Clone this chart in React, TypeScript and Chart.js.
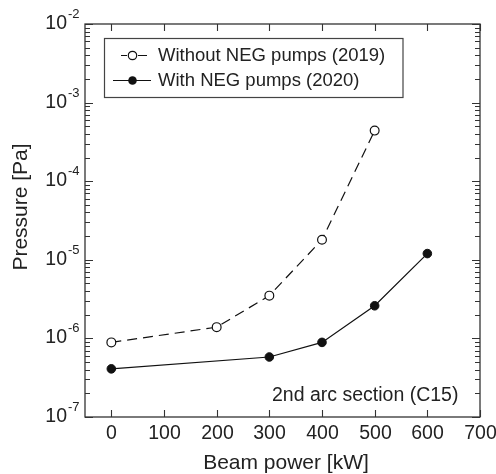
import React, { useEffect, useRef } from "react";
import { Chart, registerables } from "chart.js";

Chart.register(...registerables);

const beamPowerWithout = [0, 200, 300, 400, 500];
const pressureWithout = [8.9e-7, 1.39e-6, 3.5e-6, 1.8e-5, 4.4e-4];
const beamPowerWith = [0, 300, 400, 500, 600];
const pressureWith = [4.1e-7, 5.8e-7, 8.9e-7, 2.6e-6, 1.2e-5];
const xTickValues = [0, 100, 200, 300, 400, 500, 600, 700];
const yDecadeExps = [-7, -6, -5, -4, -3, -2];
const labelWithout = "Without NEG pumps (2019)";
const labelWith = "With NEG pumps (2020)";
const xTitle = "Beam power [kW]";
const yTitle = "Pressure [Pa]";
const annotation = "2nd arc section (C15)";

const FONT = '"Liberation Sans", Arial, Helvetica, sans-serif';
const TEXT = "#222";

const decorPlugin = {
  id: "decor",
  afterDraw(chart: any) {
    const ctx: CanvasRenderingContext2D = chart.ctx;
    const { left, right, top, bottom } = chart.chartArea;
    const xs = chart.scales.x;
    const ys = chart.scales.y;
    ctx.save();
    ctx.strokeStyle = "#333";
    ctx.lineWidth = 1.3;
    ctx.strokeRect(left, top, right - left, bottom - top);

    // x ticks
    ctx.lineWidth = 1.1;
    ctx.fillStyle = TEXT;
    ctx.font = `19.5px ${FONT}`;
    ctx.textAlign = "center";
    ctx.textBaseline = "middle";
    for (const v of xTickValues) {
      const px = Math.round(xs.getPixelForValue(v)) + 0.5;
      ctx.beginPath();
      ctx.moveTo(px, bottom);
      ctx.lineTo(px, bottom - 7);
      ctx.moveTo(px, top);
      ctx.lineTo(px, top + 7);
      ctx.stroke();
      ctx.fillText(String(v), px, 434);
    }

    // y ticks
    for (const e of yDecadeExps) {
      const base = Math.pow(10, e);
      const py = Math.round(ys.getPixelForValue(base)) + 0.5;
      ctx.beginPath();
      ctx.moveTo(left, py);
      ctx.lineTo(left + 8, py);
      ctx.moveTo(right, py);
      ctx.lineTo(right - 8, py);
      ctx.stroke();
      if (e < -2) {
        for (let k = 2; k <= 9; k++) {
          const pm = Math.round(ys.getPixelForValue(k * base)) + 0.5;
          ctx.beginPath();
          ctx.moveTo(left, pm);
          ctx.lineTo(left + 5, pm);
          ctx.moveTo(right, pm);
          ctx.lineTo(right - 5, pm);
          ctx.stroke();
        }
      }
      ctx.font = `19.5px ${FONT}`;
      ctx.textAlign = "right";
      ctx.textBaseline = "middle";
      ctx.fillText("10", 67, py - 1);
      ctx.font = `13px ${FONT}`;
      ctx.textAlign = "left";
      ctx.fillText(String(e), 68, py - 10);
    }

    // axis titles
    ctx.font = `21px ${FONT}`;
    ctx.textAlign = "center";
    ctx.textBaseline = "middle";
    ctx.fillText(xTitle, 286, 463);
    ctx.save();
    ctx.translate(21, 207);
    ctx.rotate(-Math.PI / 2);
    ctx.fillText(yTitle, 0, 0);
    ctx.restore();

    // annotation
    ctx.font = `19.5px ${FONT}`;
    ctx.textAlign = "left";
    ctx.fillText(annotation, 272, 396);

    // legend
    ctx.strokeStyle = "#444";
    ctx.lineWidth = 1.2;
    ctx.strokeRect(104.5, 38.5, 298.5, 59);
    ctx.strokeStyle = "#111";
    ctx.lineWidth = 1.2;
    const r1 = 55.5;
    const r2 = 80.5;
    ctx.beginPath();
    ctx.moveTo(121, r1);
    ctx.lineTo(127, r1);
    ctx.moveTo(138, r1);
    ctx.lineTo(147, r1);
    ctx.stroke();
    ctx.beginPath();
    ctx.arc(132.5, r1, 4.2, 0, Math.PI * 2);
    ctx.fillStyle = "#fff";
    ctx.fill();
    ctx.stroke();
    ctx.beginPath();
    ctx.moveTo(113, r2);
    ctx.lineTo(151, r2);
    ctx.stroke();
    ctx.beginPath();
    ctx.arc(132.5, r2, 4.3, 0, Math.PI * 2);
    ctx.fillStyle = "#111";
    ctx.fill();
    ctx.fillStyle = TEXT;
    ctx.font = `18.5px ${FONT}`;
    ctx.textAlign = "left";
    ctx.textBaseline = "middle";
    ctx.fillText(labelWithout, 158, r1);
    ctx.fillText(labelWith, 158, r2);
    ctx.restore();
  },
};

export default function App() {
  const ref = useRef<HTMLCanvasElement>(null);
  useEffect(() => {
    document.body.style.margin = "0";
    const canvas = ref.current;
    if (!canvas) return;
    const chart = new Chart(canvas, {
      type: "line",
      data: {
        datasets: [
          {
            label: labelWithout,
            data: beamPowerWithout.map((x, i) => ({ x, y: pressureWithout[i] })),
            borderColor: "#111",
            borderWidth: 1.2,
            borderDash: [10, 6],
            pointRadius: 4.4,
            pointBackgroundColor: "#fff",
            pointBorderColor: "#111",
            pointBorderWidth: 1.2,
            tension: 0,
          },
          {
            label: labelWith,
            data: beamPowerWith.map((x, i) => ({ x, y: pressureWith[i] })),
            borderColor: "#111",
            borderWidth: 1.2,
            pointRadius: 4.3,
            pointBackgroundColor: "#111",
            pointBorderColor: "#111",
            pointBorderWidth: 1,
            tension: 0,
          },
        ],
      },
      options: {
        animation: false,
        responsive: false,
        maintainAspectRatio: false,
        devicePixelRatio: 1,
        layout: { padding: { top: 24, right: 16, left: 0, bottom: 0 } },
        plugins: { legend: { display: false }, tooltip: { enabled: false } },
        scales: {
          x: {
            type: "linear",
            min: -50,
            max: 700,
            grid: { display: false },
            border: { display: false },
            ticks: { display: false },
            afterFit: (s: any) => {
              s.height = 57;
            },
          },
          y: {
            type: "logarithmic",
            min: 1e-7,
            max: 1e-2,
            grid: { display: false },
            border: { display: false },
            ticks: { display: false },
            afterFit: (s: any) => {
              s.width = 85;
            },
          },
        },
      },
      plugins: [decorPlugin],
    } as any);
    return () => chart.destroy();
  }, []);
  return (
    <div style={{ width: 496, height: 474, background: "#fff" }}>
      <canvas ref={ref} width={496} height={474} style={{ display: "block" }} />
    </div>
  );
}
